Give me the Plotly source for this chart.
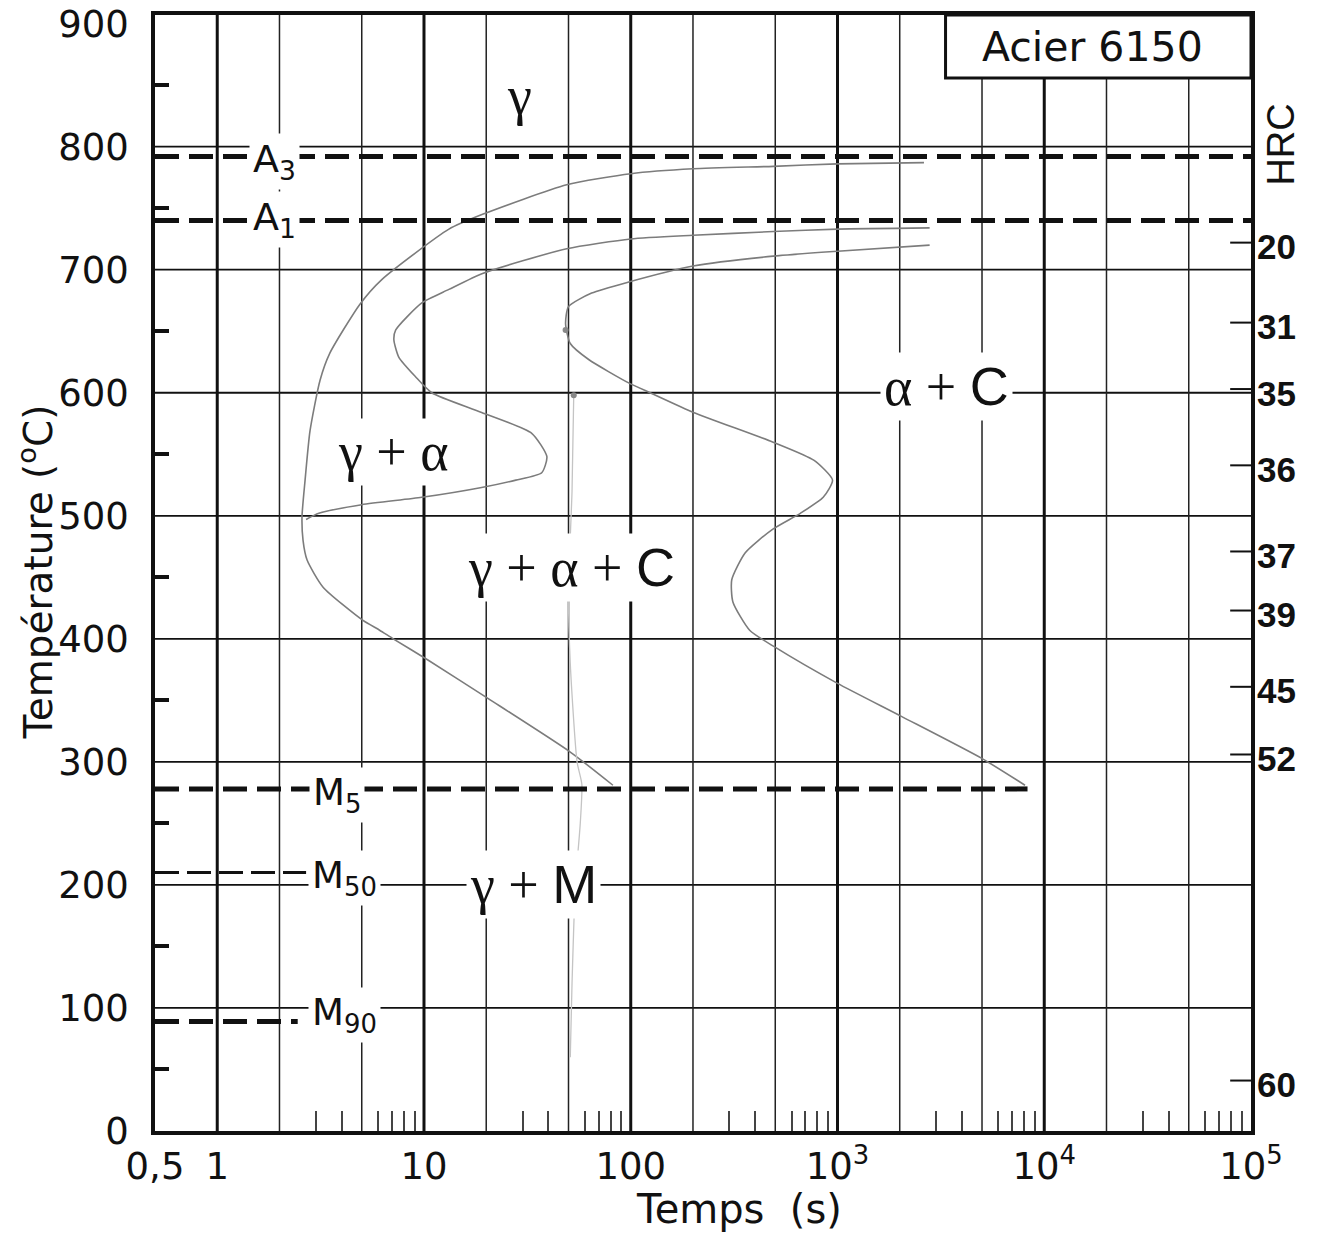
import math
import plotly.graph_objects as go

# ---------------- data ----------------
X_MIN, X_MAX = 0.5, 1e5
Y_MAX = 907
X_TICK_VALS = [0.5, 1, 10, 100, 1000, 10000, 100000]
X_TICK_TEXT = ["0,5", "1", "10", "100", "10<sup>3</sup>", "10<sup>4</sup>", "10<sup>5</sup>"]
Y_TICK_VALS = [0, 100, 200, 300, 400, 500, 600, 700, 800, 900]
Y_MINOR_VALS = [50, 150, 250, 350, 450, 550, 650, 750, 850]
X_MINOR_MULT = [3, 4, 6, 7, 8, 9]
X_MINOR_DECADES = [1, 10, 100, 1000, 10000]
GRID_TEMPS = [100, 200, 300, 400, 500, 600, 700, 800]
GRID_DECADES = [1, 10, 100, 1000, 10000]
GRID_SUB = [2, 5, 20, 50, 200, 500, 2000, 5000, 20000, 50000]

# transformation temperatures (degC) and their extents (s)
A3, A1 = 792, 740
MS, M50, M90 = 278, 210, 89
MS_END, M50_END, M90_END = 8300, 2.69, 2.45

# TTT curves (time s, temperature degC)
CURVE1_TIME = [2620, 1000, 489, 200, 100, 49, 19.2, 13.2, 6.25, 4.9, 3.5, 3.14, 2.81,
               2.66, 2.57, 2.6, 2.72, 3.25, 5.07, 6.1, 7.1, 10.4, 20.2, 51, 82]
CURVE1_TEMP = [787, 786, 784, 782, 778, 769, 745, 733, 692, 672, 632, 610, 569,
               529, 499, 480, 464, 442, 415, 407, 400, 383, 352, 308, 281]

CURVE2_TIME = [2790, 1000, 489, 200, 100, 49, 19.2, 13.2, 9.76, 7.3, 7.15, 7.55, 9.1,
               10.9, 19.0, 33.2, 39.3, 37.1, 27.8, 19.0, 9.76, 5.0, 3.1, 2.69]
CURVE2_TEMP = [734, 733, 731, 728, 725, 717, 697, 684, 673, 651, 643, 629, 613,
               600, 584, 567, 548, 535, 529, 523, 515, 509, 502, 497]

CURVE3_TIME = [2790, 1000, 489, 200, 97.7, 64.7, 50, 48.4, 51, 62.6, 97.7, 124, 201,
               485, 771, 946, 853, 661, 485, 358, 308, 312, 376, 501, 995, 2037, 4966, 8070]
CURVE3_TEMP = [720, 715, 711, 703, 690, 681, 670, 656, 640, 627, 608, 600, 584,
               560, 545, 529, 515, 502, 489, 470, 448, 430, 407, 393, 364, 337, 303, 281]

FAINT_TIME = [53, 52, 50, 51, 55, 58, 57, 54, 52, 51]
FAINT_TEMP = [598, 520, 440, 380, 300, 282, 250, 200, 120, 60]
DOT_TIME = [48.4, 53]
DOT_TEMP = [651, 598]

# hardness scale (HRC) and its temperature positions
HRC_VALUES = [20, 31, 35, 36, 37, 39, 45, 52, 60]
HRC_TEMPS = [722, 657, 603, 541, 471, 423, 361, 306, 41]

# ---------------- figure ----------------
fig = go.Figure()

def seg_lines(pairs):
    xs, ys = [], []
    for (x0, y0), (x1, y1) in pairs:
        xs += [x0, x1, None]
        ys += [y0, y1, None]
    return xs, ys

# grid
hx, hy = seg_lines([((X_MIN, t), (X_MAX, t)) for t in GRID_TEMPS])
fig.add_trace(go.Scatter(x=hx, y=hy, mode="lines", line=dict(color="#111", width=1.8),
                         hoverinfo="skip", showlegend=False))
sx, sy = seg_lines([((v, 0), (v, Y_MAX)) for v in GRID_SUB])
fig.add_trace(go.Scatter(x=sx, y=sy, mode="lines", line=dict(color="#222", width=1.5),
                         hoverinfo="skip", showlegend=False))
dx, dy = seg_lines([((v, 0), (v, Y_MAX)) for v in GRID_DECADES])
fig.add_trace(go.Scatter(x=dx, y=dy, mode="lines", line=dict(color="#111", width=3),
                         hoverinfo="skip", showlegend=False))

# curves
for tt, TT in [(CURVE1_TIME, CURVE1_TEMP), (CURVE2_TIME, CURVE2_TEMP), (CURVE3_TIME, CURVE3_TEMP)]:
    fig.add_trace(go.Scatter(x=tt, y=TT, mode="lines",
                             line=dict(color="#7c7c7c", width=1.6, shape="spline", smoothing=0.6),
                             hoverinfo="skip", showlegend=False))
fig.add_trace(go.Scatter(x=FAINT_TIME, y=FAINT_TEMP, mode="lines",
                         line=dict(color="#c4c4c4", width=1.3, shape="spline", smoothing=0.6),
                         hoverinfo="skip", showlegend=False))
fig.add_trace(go.Scatter(x=DOT_TIME, y=DOT_TEMP, mode="markers",
                         marker=dict(color="#888", size=6), hoverinfo="skip", showlegend=False))

# transformation lines
def hline(T, t_end, width, dash):
    fig.add_trace(go.Scatter(x=[X_MIN, t_end], y=[T, T], mode="lines",
                             line=dict(color="#111", width=width, dash=dash),
                             hoverinfo="skip", showlegend=False))

hline(A3, X_MAX, 5, "24px,10px")
hline(A1, X_MAX, 5, "24px,10px")
hline(MS, MS_END, 5, "24px,10px")
hline(M50, M50_END, 3, "24px,8px")
hline(M90, M90_END, 5, "24px,10px")

lg = math.log10
SERIF = "Liberation Serif"
SANS = "DejaVu Sans"

def sans(s):
    return '<span style="font-family:Liberation Sans">' + s + '</span>'

ann = []
def label(text, t, T, size, family, yshift=0):
    ann.append(dict(x=lg(t), y=T, xref="x", yref="y", text=text, showarrow=False,
                    xanchor="center", yanchor="middle",
                    font=dict(family=family, size=size, color="#111"),
                    bgcolor="white", borderpad=3, yshift=yshift))

label("γ", 29, 841, 54, SERIF)
label("γ + α", 7.15, 547, 54, SERIF, yshift=6)
label("γ + α + " + sans("C"), 51.9, 454, 54, SERIF, yshift=5)
label("α + " + sans("C"), 3365, 600, 54, SERIF, yshift=6)
label("γ + " + sans("M"), 34, 200, 54, SERIF)

label("A<sub>3</sub>", 1.9, A3, 38, SANS, yshift=-5)
label("A<sub>1</sub>", 1.9, 745, 38, SANS, yshift=-5)
label("M<sub>5</sub>", 3.79, 277, 37, SANS, yshift=-5)
label("M<sub>50</sub>", 4.14, M50, 37, SANS, yshift=-5)
label("M<sub>90</sub>", 4.14, 98, 37, SANS, yshift=-5)

# HRC scale
for v, T in zip(HRC_VALUES, HRC_TEMPS):
    ann.append(dict(x=1.004, y=T, xref="paper", yref="y", text=str(v), showarrow=False,
                    xanchor="left", yanchor="middle", yshift=-4,
                    font=dict(family="Liberation Sans", size=35, color="#111", weight="bold")))
shapes = [dict(type="line", xref="paper", yref="y", x0=0.981, x1=1.0, y0=T, y1=T,
               line=dict(color="#111", width=2)) for T in HRC_TEMPS]

ann.append(dict(x=1.027, y=0.8835, xref="paper", yref="paper", text="HRC", textangle=-90,
                xanchor="center", yanchor="middle", showarrow=False,
                font=dict(family="Liberation Sans", size=38, color="#111")))

# title box
shapes.append(dict(type="rect", xref="paper", yref="paper", x0=0.7213, x1=1.0, y0=0.9435, y1=1.0,
                   fillcolor="white", line=dict(color="#111", width=3), layer="above"))
ann.append(dict(x=0.855, y=0.971, xref="paper", yref="paper", text="Acier 6150", showarrow=False,
                xanchor="center", yanchor="middle",
                font=dict(family=SANS, size=41, color="#111")))

# axis titles
ann.append(dict(x=0.533, y=-0.070, xref="paper", yref="paper", text="Temps\u00a0\u00a0(s)",
                xanchor="center", yanchor="middle",
                showarrow=False, font=dict(family=SANS, size=40, color="#111")))
ann.append(dict(x=-0.109, y=0.501, xref="paper", yref="paper", text="Température (<sup>o</sup>C)",
                xanchor="center", yanchor="middle",
                textangle=-90, showarrow=False, font=dict(family=SANS, size=39, color="#111")))

x_minor = [m * d for d in X_MINOR_DECADES for m in X_MINOR_MULT]

# page body has an 8px margin: size/margins compensate so the plot area lands at
# x 155..1251, y 15..1131 in the 1319x1235 window
fig.update_layout(
    width=1311, height=1227,
    margin=dict(l=147, r=68, t=7, b=104, autoexpand=False),
    paper_bgcolor="white", plot_bgcolor="white",
    showlegend=False,
    annotations=ann, shapes=shapes,
    xaxis=dict(type="log", range=[lg(X_MIN), lg(X_MAX)], showgrid=False, zeroline=False,
               tickmode="array", tickvals=X_TICK_VALS, ticktext=X_TICK_TEXT,
               ticks="", ticklabelstandoff=0, automargin=False, ticklabeloverflow="allow",
               tickfont=dict(family=SANS, size=37, color="#111"),
               showline=True, linecolor="#111", linewidth=3.5, mirror=True,
               minor=dict(tickmode="array", tickvals=x_minor, ticks="inside", ticklen=20,
                          tickwidth=2, tickcolor="#444", showgrid=False)),
    yaxis=dict(range=[0, Y_MAX], showgrid=False, zeroline=False,
               tickmode="array", tickvals=Y_TICK_VALS, ticks="", ticklabelstandoff=15,
               automargin=False, ticklabeloverflow="allow",
               tickfont=dict(family=SANS, size=37, color="#111"),
               showline=True, linecolor="#111", linewidth=3.5, mirror=True,
               minor=dict(tickmode="array", tickvals=Y_MINOR_VALS, ticks="inside", ticklen=14,
                          tickwidth=4, tickcolor="#111", showgrid=False)),
)

fig.write_html("out.html")
